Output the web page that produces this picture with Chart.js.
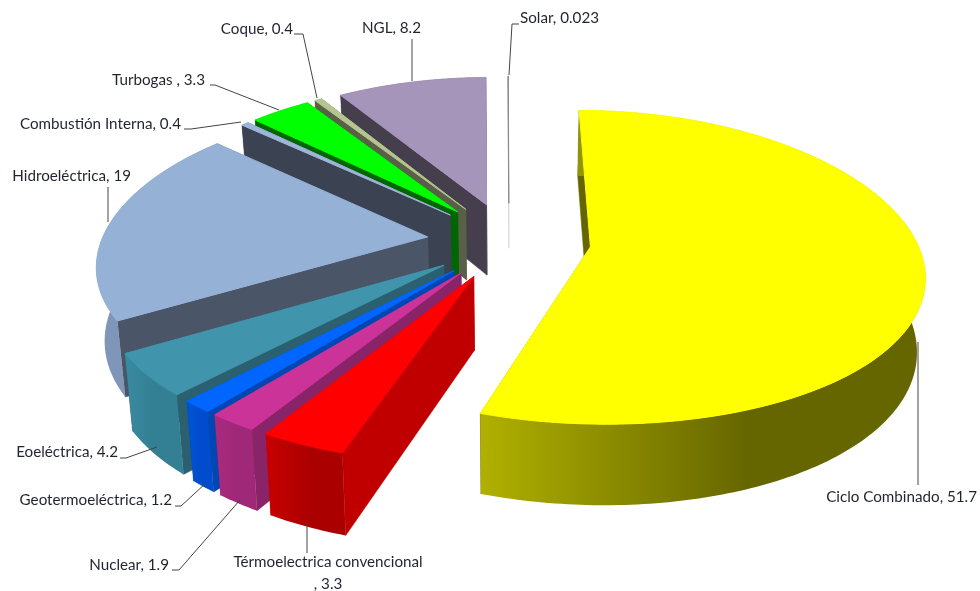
<!DOCTYPE html>
<html>
<head>
<meta charset="utf-8">
<title>Capacidad por tecnología</title>
<script src="https://cdn.jsdelivr.net/npm/chart.js@4"></script>
<style>
    html, body { margin: 0; padding: 0; background: #fff; }
    canvas { display: block; }
</style>
</head>
<body>
<canvas id="pieChart" width="980" height="591"></canvas>
<script>
const categories = ["Ciclo Combinado", "Térmoelectrica convencional", "Nuclear", "Geotermoeléctrica", "Eoeléctrica",
    "Hidroeléctrica", "Combustión Interna", "Turbogas ", "Coque", "NGL", "Solar"];
const values = [51.7, 3.3, 1.9, 1.2, 4.2, 19, 0.4, 3.3, 0.4, 8.2, 0.023];

// colours of the top face, of the cut walls and of the outer rim (left end, right end)
const topColors = ["#ffff00", "#ff0000", "#cc3399", "#0066ff", "#4095ad", "#95b1d6", "#9db5d8", "#00ff00", "#b5c58f", "#a695ba", "#8a8a8a"];
const wallColors = ["#666600", "#c00000", "#8a2468", "#0047b3", "#2a6070", "#4a5668", "#3b4252", "#006600", "#5a6048", "#453f4d", "#d8d8d8"];
const rimColors = [["#b0b000", "#666600"], ["#c80000", "#aa0000"], ["#a82a80", "#a02878"], ["#0055d8", "#004ccc"],
    ["#3a8aa0", "#337f94"], ["#7f96b8", "#7f96b8"], ["#3b4252", "#3b4252"], ["#006600", "#006600"], ["#5a6048", "#5a6048"], ["#453f4d", "#453f4d"], ["#d8d8d8", "#d8d8d8"]];

// label text position: x, y, align, then the leader line as x,y pairs
const labelLayout = [
    [977, 497, "right", [[918, 342], [918, 485]]],
    [328, 562, "center", [[307, 523], [307, 553]]],
    [169, 565, "right", [[172, 570], [179, 570], [240, 500]]],
    [172, 500, "right", [[175, 506], [181, 506], [206, 483]]],
    [118, 452, "right", [[120, 458], [126, 458], [157, 447]]],
    [131, 176, "right", [[108, 187], [108, 222]]],
    [181, 124, "right", [[184, 129], [191, 129], [241, 122]]],
    [205, 80, "right", [[210, 85], [215, 85], [279, 110]]],
    [293, 29, "right", [[294, 34], [303, 34], [317, 98]]],
    [421, 28, "right", [[412, 39], [412, 81]]],
    [520, 18, "left", [[519, 24], [512, 24], [509, 75]]]
];

const explode = 82;      // how far every slice is pulled out
const tilt = 0.468;      // flattening of the plan
const perspX = 0.16;     // front looks wider than back
const perspY = 0.13;     // and deeper
const shrinkX = 0.00028; // lower face is a bit smaller than the top one
const shrinkY = 0.00017;
// small view corrections per slice: turn in degrees, height of the pie
const sliceTurn = [0.7, 0, 0, 0, 0, 0, 0, 0, 0, 0, 0.6];
const sliceDepth = [72, 72, 72, 72, 72, 72, 72, 72, 72, 72, 46];

function project(arc, px, py, z) {
    const v = py / arc.outerRadius;
    return [
        arc.x + px / (1 - perspX * v) * (1 - shrinkX * z),
        arc.y + (tilt * py * (1 - shrinkY * z) + z) / (1 - perspY * v)
    ];
}

function polygon(ctx, pts) {
    ctx.beginPath();
    pts.forEach((p, i) => i ? ctx.lineTo(p[0], p[1]) : ctx.moveTo(p[0], p[1]));
    ctx.closePath();
}

function drawSlice(ctx, arc, i) {
    const turn = sliceTurn[i] * Math.PI / 180;
    const start = arc.startAngle + turn, end = arc.endAngle + turn;
    const mid = (start + end) / 2;
    const ox = Math.cos(mid) * explode, oy = Math.sin(mid) * explode;
    const r = arc.outerRadius;
    const depth = sliceDepth[i];
    const steps = Math.max(2, Math.ceil((end - start) * 60));
    const rimAt = (z) => {
        const pts = [];
        for (let k = 0; k <= steps; k++) {
            const a = start + (end - start) * k / steps;
            pts.push(project(arc, ox + Math.cos(a) * r, oy + Math.sin(a) * r, z));
        }
        return pts;
    };
    const top = rimAt(0), bottom = rimAt(depth);
    const apexTop = project(arc, ox, oy, 0), apexBottom = project(arc, ox, oy, depth);
    const color = wallColors[i];

    // the two cut walls, the rim, then the top face over them
    ctx.fillStyle = color;
    ctx.strokeStyle = color;
    ctx.lineWidth = 0.5;
    polygon(ctx, [apexTop, top[0], bottom[0], apexBottom]);
    ctx.fill(); ctx.stroke();
    polygon(ctx, [apexTop, top[steps], bottom[steps], apexBottom]);
    ctx.fill(); ctx.stroke();

    const xs = top.map(p => p[0]);
    const grad = ctx.createLinearGradient(Math.min(...xs), 0, Math.max(...xs), 0);
    grad.addColorStop(0, rimColors[i][0]);
    grad.addColorStop(0.6, rimColors[i][1]);
    grad.addColorStop(1, rimColors[i][1]);
    ctx.fillStyle = grad;
    polygon(ctx, top.concat(bottom.slice().reverse()));
    ctx.fill();

    ctx.fillStyle = arc.options.backgroundColor;
    ctx.strokeStyle = arc.options.backgroundColor;
    ctx.lineWidth = 1;
    polygon(ctx, [apexTop].concat(top));
    ctx.fill(); ctx.stroke();
}

// chart.js lays the slices out, this draws them tilted and exploded
const pie3d = {
    id: "pie3d",
    beforeDatasetsDraw(chart) {
        const ctx = chart.ctx;
        const arcs = chart.getDatasetMeta(0).data;
        const order = arcs.map((a, i) => i).sort((a, b) =>
            Math.sin((arcs[a].startAngle + arcs[a].endAngle) / 2) - Math.sin((arcs[b].startAngle + arcs[b].endAngle) / 2));
        ctx.save();
        order.forEach(i => drawSlice(ctx, arcs[i], i));
        ctx.restore();
        return false;
    },
    afterDraw(chart) {
        const ctx = chart.ctx;
        ctx.save();
        ctx.font = "15.2px Lato";
        ctx.textBaseline = "middle";
        ctx.lineWidth = 1;
        categories.forEach((name, i) => {
            const [x, y, align, leader] = labelLayout[i];
            ctx.strokeStyle = "#444444";
            ctx.beginPath();
            leader.forEach((p, k) => k ? ctx.lineTo(p[0], p[1]) : ctx.moveTo(p[0], p[1]));
            ctx.stroke();
            ctx.fillStyle = "#1f2430";
            ctx.textAlign = align;
            if (i === 1) {
                ctx.fillText(name, x, y);
                ctx.fillText(", " + values[i], x, y + 22);
            } else {
                ctx.fillText(name + ", " + values[i], x, y);
            }
        });
        ctx.restore();
    }
};

new Chart(document.getElementById("pieChart"), {
    type: "pie",
    data: {
        labels: categories,
        datasets: [{
            data: values,
            backgroundColor: topColors,
            borderWidth: 0,
            radius: 326
        }]
    },
    options: {
        responsive: false,
        animation: false,
        rotation: -0.7,
        layout: { padding: { left: 38, bottom: 110 } },
        plugins: { legend: { display: false }, tooltip: { enabled: false } }
    },
    plugins: [pie3d]
});
</script>
</body>
</html>
